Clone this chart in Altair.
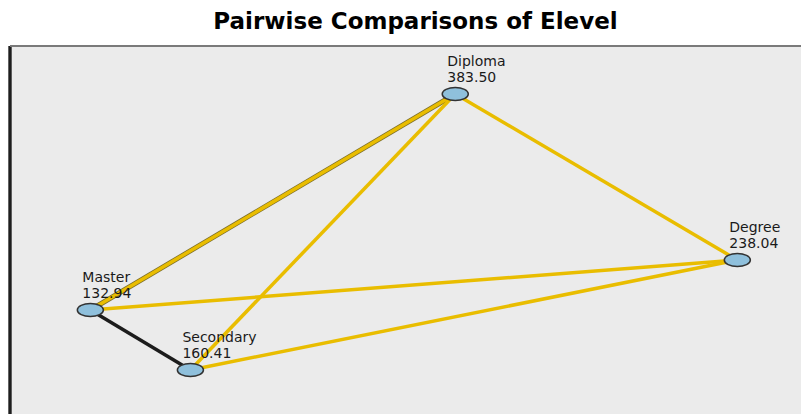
import altair as alt
import pandas as pd

# Nodes (positions, layout units)
nodes = ["Diploma", "Degree", "Master", "Secondary"]
mean_ranks = ["383.50", "238.04", "132.94", "160.41"]
node_x = [54.3, 88.7, 9.8, 22.0]
node_y = [88.0, 46.5, 34.0, 19.0]

# Edges between every pair
edge_from = ["Master", "Master", "Master", "Secondary", "Secondary", "Diploma"]
edge_to = ["Secondary", "Diploma", "Degree", "Diploma", "Degree", "Degree"]
edge_color = ["#1c1c1c", "#E9BD00", "#E9BD00", "#E9BD00", "#E9BD00", "#E9BD00"]
edge_outline = [False, True, False, False, False, False]

pos = {n: (x, y) for n, x, y in zip(nodes, node_x, node_y)}
nodes_df = pd.DataFrame({
    "name": nodes,
    "x": node_x,
    "y": node_y,
    "value": mean_ranks,
})
edges_df = pd.DataFrame({
    "src": edge_from,
    "dst": edge_to,
    "x": [pos[a][0] for a in edge_from],
    "y": [pos[a][1] for a in edge_from],
    "x2": [pos[b][0] for b in edge_to],
    "y2": [pos[b][1] for b in edge_to],
    "color": edge_color,
    "outline": edge_outline,
})

W = 791
xs = alt.Scale(domain=[0, W / 8.2], nice=False, zero=False)
ys = alt.Scale(domain=[0, 100], nice=False, zero=False)
X = alt.X("x:Q", scale=xs, axis=None)
Y = alt.Y("y:Q", scale=ys, axis=None)

base_edges = alt.Chart(edges_df)
outline = base_edges.transform_filter("datum.outline").mark_rule(
    strokeWidth=5, color="#7d6f2a"
).encode(x=X, y=Y, x2="x2:Q", y2="y2:Q")
edges = base_edges.mark_rule(strokeWidth=3.5).encode(
    x=X, y=Y, x2="x2:Q", y2="y2:Q", color=alt.Color("color:N", scale=None)
)

ellipse = "M-1,0 A1,0.5 0 1,0 1,0 A1,0.5 0 1,0 -1,0 Z"
points = alt.Chart(nodes_df).mark_point(
    shape=ellipse, size=680, filled=True, fill="#8fc0dc", stroke="#333333",
    strokeWidth=1.5, opacity=1
).encode(x=X, y=Y)

names = alt.Chart(nodes_df).mark_text(
    align="left", baseline="alphabetic", dx=-8, dy=-28,
    font="DejaVu Sans", fontSize=14, color="#1a1a1a"
).encode(x=X, y=Y, text="name:N")
values = alt.Chart(nodes_df).mark_text(
    align="left", baseline="alphabetic", dx=-8, dy=-12,
    font="DejaVu Sans", fontSize=14, color="#1a1a1a"
).encode(x=X, y=Y, text="value:N")

# frame: left and top borders of the plot area
left_border = alt.Chart(nodes_df).mark_rule(color="#1e1e1e", strokeWidth=2.5).encode(
    x=alt.value(0), y=alt.value(0), y2=alt.value(400)
)
top_border = alt.Chart(nodes_df).mark_rule(color="#7a7a7a", strokeWidth=1.5).encode(
    x=alt.value(0), x2=alt.value(W), y=alt.value(0)
)

chart = alt.layer(outline, edges, points, names, values, left_border, top_border).properties(
    width=W, height=400,
    title=alt.Title(
        "Pairwise Comparisons of Elevel", font="DejaVu Sans", fontSize=23,
        fontWeight="bold", color="#000000", anchor="middle", offset=11, dx=10
    ),
    autosize=alt.AutoSizeParams(type="none"),
    padding={"left": 2, "top": 38, "right": 0, "bottom": 0},
    background="#ffffff",
).configure_view(
    fill="#ebebeb", stroke=None
)

chart.save("out.html", embed_options={"renderer": "svg", "actions": False})
